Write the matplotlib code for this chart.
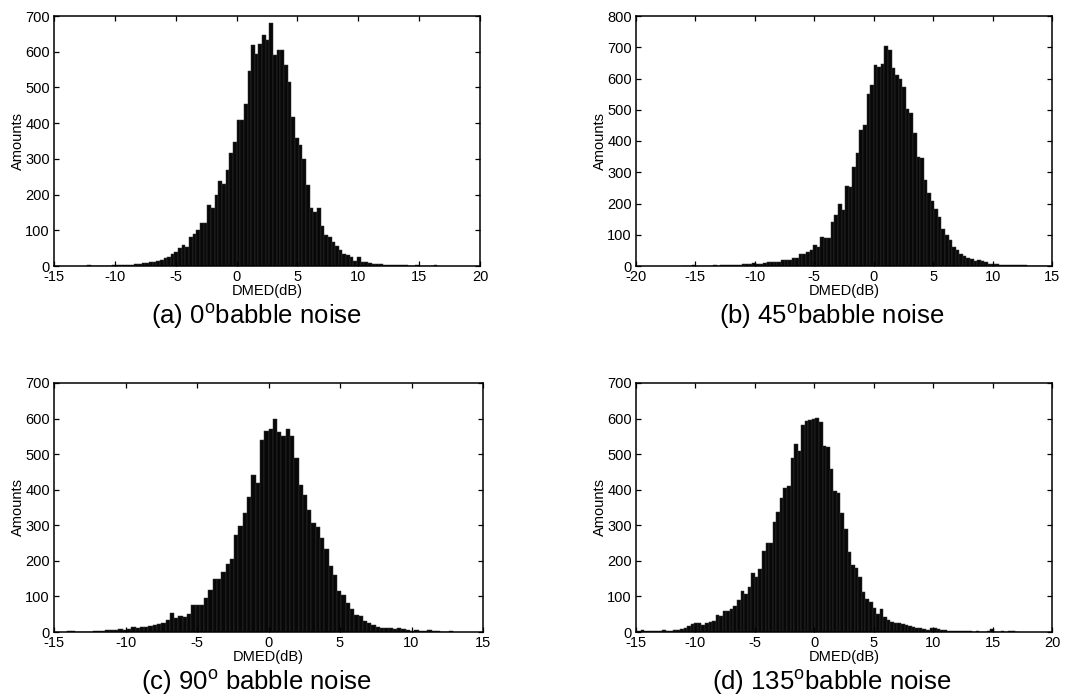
import numpy as np
import matplotlib
matplotlib.use("Agg")
import matplotlib.pyplot as plt

plt.rcParams["font.family"] = ["Liberation Sans", "DejaVu Sans"]
plt.rcParams["mathtext.fontset"] = "custom"
plt.rcParams["mathtext.rm"] = "Liberation Sans"
plt.rcParams["axes.unicode_minus"] = False

W, H = 1073, 698
BIN_W = 0.3

# histogram counts, one list per panel (left edge of first bin + counts)
a_start = -12.3
a_counts = [2, 0, 1, 0, 1, 1, 1, 2, 3, 2, 3, 3, 4, 5, 6, 9, 8, 10, 11, 13, 18, 22, 25,
            35, 38, 50, 59, 54, 82, 91, 100, 121, 121, 171, 162, 200, 238, 231, 270, 317,
            347, 408, 408, 454, 546, 619, 595, 621, 647, 634, 680,
            592, 606, 604, 563, 516, 418, 358, 340, 300, 227, 162, 150, 163, 112, 88, 82,
            66, 56, 45, 35, 30, 25, 15, 24, 12, 10, 9, 7, 6, 5, 4, 4, 3, 3, 2, 3, 2, 1, 1,
            2, 1, 0, 1, 1, 3]

b_start = -16.2
b_counts = [0, 1, 0, 2, 1, 0, 1, 1, 1, 2, 1, 2, 2, 2, 3, 4, 4, 5, 5, 7, 9, 8, 8, 10, 12,
            14, 12, 14, 20, 18, 18, 25, 27, 40, 38, 45, 50, 68, 62, 93, 90, 90, 140, 162,
            197, 178, 257, 253, 318, 362, 435, 452, 550, 578, 642, 636, 645,
            703, 692, 634, 612, 598, 573, 504, 490, 426, 349, 345, 275, 235, 207, 182, 157,
            120, 100, 82, 60, 52, 40, 33, 25, 22, 17, 20, 15, 12, 8, 7, 5, 4, 3, 3, 2, 3,
            4, 3, 2, 1, 1, 1, 1, 0, 1]

c_start = -14.1
c_counts = [3, 2, 1, 1, 1, 1, 2, 2, 3, 5, 5, 6, 8, 7, 8, 15, 10, 14, 15, 17, 20, 22, 25,
            35, 53, 40, 46, 42, 52, 76, 75,
            76, 95, 118, 149, 149, 170, 190, 204, 273, 299, 335, 380, 440, 420, 540, 565,
            570, 600,
            561, 550, 570, 550, 488, 413, 385, 343, 307, 296, 263, 232, 185, 160, 115, 105,
            82, 64, 48, 45, 32, 26, 20, 15, 12, 12, 10, 8, 12, 8, 5, 3, 6, 4, 3, 5, 2, 3,
            1, 1, 2]

d_start = -14.9
d_counts = [3, 5, 4, 3, 3, 2, 4, 5, 4, 4, 5, 6, 8, 12, 18, 22, 24, 24, 20, 25, 28, 32, 48,
            45, 58, 60, 65, 72,
            90, 116, 107, 127, 167, 156, 177, 228, 251, 251, 310, 338, 376, 404, 410, 488,
            528, 510, 582, 594, 596, 599, 601, 591, 523, 520, 457, 396, 390, 335, 289, 226,
            188, 181, 156, 113, 92, 85, 67, 52, 64, 41, 34, 29, 24, 24, 22,
            20, 17, 14, 12, 10, 8, 7, 10, 11, 9, 6, 5, 4, 3, 3, 2, 3, 2, 2, 1, 2, 1, 1, 2,
            8, 1, 1, 2, 1, 2, 3, 1]

a_xticks = [-15, -10, -5, 0, 5, 10, 15, 20]
b_xticks = [-20, -15, -10, -5, 0, 5, 10, 15]
c_xticks = [-15, -10, -5, 0, 5, 10, 15]
d_xticks = [-15, -10, -5, 0, 5, 10, 15, 20]
a_yticks = [0, 100, 200, 300, 400, 500, 600, 700]
b_yticks = [0, 100, 200, 300, 400, 500, 600, 700, 800]
c_yticks = a_yticks
d_yticks = a_yticks

captions = [r"(a) 0$^{\rm o}$babble noise", r"(b) 45$^{\rm o}$babble noise",
            r"(c) 90$^{\rm o}$ babble noise", r"(d) 135$^{\rm o}$babble noise"]

# pixel boxes (left, top, right, bottom) and caption centres
boxes = [(54, 16, 480, 266), (636, 16, 1052, 266),
         (54, 383, 483, 632), (636, 383, 1052, 632)]
cap_pos = [(256, 316), (832, 316), (256, 682), (832, 682)]

fig = plt.figure(figsize=(W / 100, H / 100), dpi=100, facecolor="white")


def px_rect(l, t, r, b):
    return [l / W, 1 - b / H, (r - l) / W, (b - t) / H]


def draw_hist(ax, start, counts, xticks, yticks):
    left = start + BIN_W * np.arange(len(counts))
    ax.bar(left, counts, width=BIN_W, align="edge", color="#080808",
           edgecolor="#333333", linewidth=0.35)
    ax.set_xlim(xticks[0], xticks[-1])
    ax.set_ylim(yticks[0], yticks[-1])
    ax.set_xticks(xticks)
    ax.set_xticklabels([str(t) for t in xticks])
    ax.set_yticks(yticks)
    ax.set_yticklabels([str(t) for t in yticks])
    ax.tick_params(direction="in", length=3.5, width=0.9, top=True, right=True,
                   labelsize=10.5, pad=3)
    for sp in ax.spines.values():
        sp.set_linewidth(1.1)
    ax.set_xlabel("DMED(dB)", fontsize=10.5, labelpad=0)
    ax.set_ylabel("Amounts", fontsize=10.5, labelpad=0)


data = [(a_start, a_counts, a_xticks, a_yticks),
        (b_start, b_counts, b_xticks, b_yticks),
        (c_start, c_counts, c_xticks, c_yticks),
        (d_start, d_counts, d_xticks, d_yticks)]

for box, (start, counts, xt, yt), cap, (cx, cy) in zip(boxes, data, captions, cap_pos):
    ax = fig.add_axes(px_rect(*box))
    draw_hist(ax, start, counts, xt, yt)
    fig.text(cx / W, 1 - cy / H, cap, ha="center", va="center", fontsize=18.5)

fig.savefig("out.png", dpi=100, facecolor="white")
